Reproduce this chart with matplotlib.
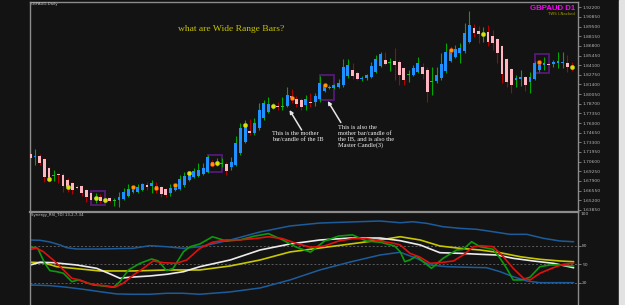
import numpy as np
import matplotlib
matplotlib.use('Agg')
import matplotlib.pyplot as plt
from matplotlib.patches import Rectangle

'''daily GBPAUD candles read off the screenshot (open, high, low, close)'''
opens = [1.7166, 1.7124, 1.7138, 1.7096, 1.6970, 1.6865, 1.6893, 1.6872, 1.6802, 1.6760,
         1.6711, 1.6718, 1.6662, 1.6620, 1.6543, 1.6564, 1.6515, 1.6550, 1.6515, 1.6522,
         1.6536, 1.6578, 1.6634, 1.6634, 1.6662, 1.6732, 1.6718, 1.6718, 1.6704, 1.6676,
         1.6620, 1.6662, 1.6676, 1.6732, 1.6802, 1.6844, 1.6858, 1.6886, 1.6914, 1.7054,
         1.7026, 1.7033, 1.7026, 1.6984, 1.7012, 1.7180, 1.7334, 1.7488, 1.7460, 1.7530,
         1.7670, 1.7754, 1.7831, 1.7845, 1.7831, 1.7838, 1.7978, 1.7936, 1.7922, 1.7852,
         1.7901, 1.7894, 1.7936, 1.8048, 1.8097, 1.8090, 1.8104, 1.8132, 1.8258, 1.8342,
         1.8300, 1.8223, 1.8230, 1.8244, 1.8314, 1.8398, 1.8482, 1.8447, 1.8468, 1.8454,
         1.8370, 1.8279, 1.8272, 1.8314, 1.8384, 1.8342, 1.8181, 1.8188, 1.8230, 1.8328,
         1.8468, 1.8524, 1.8580, 1.8608, 1.8734, 1.8930, 1.8888, 1.8839, 1.8874, 1.8818,
         1.8776, 1.8678, 1.8496, 1.8356, 1.8209, 1.8216, 1.8244, 1.8174, 1.8216, 1.8342,
         1.8412, 1.8433, 1.8426, 1.8440, 1.8440, 1.8440, 1.8398]
highs = [1.7222, 1.7236, 1.7166, 1.7110, 1.6984, 1.6942, 1.6900, 1.6900, 1.6830, 1.6774,
         1.6732, 1.6732, 1.6676, 1.6662, 1.6620, 1.6606, 1.6550, 1.6564, 1.6550, 1.6634,
         1.6690, 1.6746, 1.6718, 1.6746, 1.6760, 1.6774, 1.6802, 1.6774, 1.6718, 1.6690,
         1.6746, 1.6746, 1.6872, 1.6914, 1.6914, 1.6970, 1.7040, 1.7040, 1.7152, 1.7082,
         1.7110, 1.7110, 1.7054, 1.7124, 1.7418, 1.7600, 1.7642, 1.7656, 1.7670, 1.7880,
         1.7922, 1.7964, 1.7880, 1.7894, 1.7964, 1.8104, 1.8076, 1.7978, 1.7950, 1.7992,
         1.8020, 1.8020, 1.8258, 1.8160, 1.8132, 1.8146, 1.8216, 1.8496, 1.8496, 1.8440,
         1.8328, 1.8258, 1.8286, 1.8454, 1.8552, 1.8594, 1.8594, 1.8510, 1.8650, 1.8482,
         1.8384, 1.8342, 1.8412, 1.8524, 1.8440, 1.8384, 1.8384, 1.8384, 1.8580, 1.8720,
         1.8664, 1.8692, 1.8720, 1.9000, 1.9168, 1.8986, 1.8958, 1.8944, 1.8972, 1.8902,
         1.8790, 1.8692, 1.8510, 1.8370, 1.8272, 1.8342, 1.8258, 1.8314, 1.8468, 1.8468,
         1.8524, 1.8482, 1.8482, 1.8594, 1.8594, 1.8552, 1.8454]
lows = [1.7040, 1.7012, 1.7012, 1.6774, 1.6774, 1.6788, 1.6760, 1.6634, 1.6634, 1.6606,
        1.6676, 1.6578, 1.6494, 1.6452, 1.6480, 1.6480, 1.6494, 1.6494, 1.6438, 1.6424,
        1.6522, 1.6564, 1.6620, 1.6620, 1.6648, 1.6662, 1.6620, 1.6620, 1.6564, 1.6564,
        1.6578, 1.6648, 1.6662, 1.6704, 1.6788, 1.6830, 1.6844, 1.6872, 1.6900, 1.6998,
        1.6998, 1.6984, 1.6872, 1.6942, 1.6998, 1.7152, 1.7320, 1.7432, 1.7432, 1.7502,
        1.7642, 1.7740, 1.7796, 1.7782, 1.7782, 1.7824, 1.7880, 1.7824, 1.7782, 1.7782,
        1.7824, 1.7838, 1.7894, 1.8034, 1.8076, 1.8076, 1.8090, 1.8104, 1.8230, 1.8216,
        1.8202, 1.8188, 1.8202, 1.8230, 1.8300, 1.8384, 1.8412, 1.8328, 1.8202, 1.8132,
        1.8132, 1.8174, 1.8258, 1.8300, 1.8216, 1.7894, 1.7992, 1.8160, 1.8202, 1.8300,
        1.8454, 1.8510, 1.8440, 1.8580, 1.8720, 1.8804, 1.8720, 1.8734, 1.8678, 1.8622,
        1.8440, 1.8160, 1.8104, 1.8020, 1.8104, 1.8118, 1.8048, 1.8020, 1.8202, 1.8314,
        1.8342, 1.8328, 1.8384, 1.8370, 1.8370, 1.8314, 1.8328]
closes = [1.7110, 1.7138, 1.7040, 1.6844, 1.6816, 1.6879, 1.6872, 1.6718, 1.6704, 1.6662,
          1.6697, 1.6620, 1.6564, 1.6522, 1.6550, 1.6508, 1.6522, 1.6508, 1.6522, 1.6564,
          1.6634, 1.6676, 1.6704, 1.6704, 1.6746, 1.6704, 1.6760, 1.6690, 1.6606, 1.6592,
          1.6690, 1.6732, 1.6816, 1.6858, 1.6900, 1.6928, 1.6942, 1.6970, 1.7124, 1.7026,
          1.7040, 1.7040, 1.6928, 1.7054, 1.7320, 1.7530, 1.7572, 1.7460, 1.7600, 1.7782,
          1.7880, 1.7866, 1.7838, 1.7831, 1.7838, 1.7992, 1.7950, 1.7866, 1.7824, 1.7936,
          1.7887, 1.7978, 1.8160, 1.8132, 1.8104, 1.8132, 1.8160, 1.8384, 1.8412, 1.8258,
          1.8216, 1.8237, 1.8272, 1.8398, 1.8496, 1.8566, 1.8426, 1.8454, 1.8412, 1.8272,
          1.8202, 1.8286, 1.8370, 1.8440, 1.8286, 1.8034, 1.8188, 1.8272, 1.8426, 1.8594,
          1.8622, 1.8636, 1.8650, 1.8860, 1.8972, 1.8860, 1.8846, 1.8846, 1.8734, 1.8720,
          1.8580, 1.8286, 1.8174, 1.8132, 1.8230, 1.8244, 1.8132, 1.8244, 1.8440, 1.8454,
          1.8440, 1.8419, 1.8454, 1.8468, 1.8454, 1.8384, 1.8391]

'''the little dots sitting on some candles'''
yellow_dots = [4, 8, 14, 16, 34, 40, 46, 52, 97, 116]
orange_dots = [22, 27, 31, 39, 56, 63, 90, 109]

'''inside bar boxes: first bar, last bar, top, bottom'''
box_first = [13, 38, 62, 108]
box_last = [16, 41, 65, 111]
box_top = [1.6652, 1.7152, 1.8272, 1.8562]
box_bottom = [1.6448, 1.6918, 1.7922, 1.8296]

price_ticks = [1.6385, 1.6520, 1.6655, 1.6790, 1.6925, 1.7060, 1.7195, 1.7330, 1.7465, 1.7600, 1.7735,
               1.7870, 1.8005, 1.8140, 1.8275, 1.8410, 1.8545, 1.8680, 1.8815, 1.8950, 1.9085, 1.9220]
tdi_levels = [20, 50, 80]

'''TDI lines in the lower window, (bar, value) read at points along each line'''
band_up_x = [0, 2.1, 4.2, 6.4, 7.8, 9.9, 14.9, 22, 25.6, 29.2, 32.7, 36.3, 42.8, 49.2, 55.6, 62, 68.5,
             74.9, 79.2, 81.9, 84.9, 88.4, 92, 95.6, 99.1, 102.7, 106.3, 109.9, 113.4, 116.3]
band_up = [89.7, 89.2, 86.5, 81.6, 77.2, 75.1, 75.1, 76.2, 80.5, 78.8, 76.2, 78.8, 89.7, 102.7, 112.4,
           117.2, 118.9, 120.5, 117.7, 119.3, 116.7, 111.2, 108.6, 107, 103.1, 98.9, 98.9, 92.4, 88.1, 86.9]
band_dn_x = [0, 4.2, 7.8, 11.3, 14.9, 18.5, 22, 25.6, 29.2, 32.7, 36.3, 42.8, 49.2, 55.6, 62, 68.5,
             74.9, 79.2, 82.7, 85.6, 89.2, 93.4, 97.7, 100.6, 103.4, 106.3, 109.1, 112.7, 116.3]
band_dn = [16.8, 15.7, 13.1, 9.8, 5.9, 2.2, 1.7, 1.7, 3.3, 3.3, 1.7, 5.5, 11.9, 24.9, 41.1, 54, 65.4,
           69.8, 60, 49.2, 46.4, 45.5, 44.8, 38.3, 30.2, 23.3, 20.5, 20.5, 20.5]
green_x = [0, 0.6, 1.6, 3.1, 4.2, 5.7, 7.1, 8.9, 10.3, 12.1, 13.5, 15.6, 17.8, 19.2, 21, 23.5, 26, 27.4,
           29.2, 30.6, 32.8, 34.2, 36.3, 39, 42, 45, 48, 51, 54, 57, 60, 63, 66, 69, 72, 75, 78, 79.2,
           80.2, 81.3, 82.7, 84.1, 85.9, 88.4, 91.3, 92.7, 94.5, 96.3, 99.1, 100.6, 102, 103.4, 105.2,
           107, 109.1, 111.3, 113.4, 116.3]
green = [78.8, 77.9, 76.2, 51.9, 40, 38.3, 35.7, 22.1, 24.9, 20.5, 16.8, 15.2, 13.1, 22.1, 41.1, 51.9,
         58.9, 55.7, 40, 43.8, 70.7, 78.8, 83.2, 95, 88, 90, 96, 100, 90, 78, 70, 88, 96, 98, 88, 86, 80,
         70.7, 54.5, 57.3, 63.8, 54.5, 43.8, 60, 73.5, 74.6, 86.9, 78.8, 74.6, 60, 43.8, 24.9, 24.9,
         29.3, 46.4, 49.2, 49.2, 47.6]
red_x = [0, 1.4, 2.8, 4.9, 7.1, 8.9, 10.6, 12.4, 14.2, 16.4, 18.1, 19.9, 22.1, 24.2, 26.3, 28.5, 31.3,
         33.5, 36.3, 39, 42, 45, 48, 51, 54, 57, 60, 63, 66, 69, 72, 75, 78, 79.2, 81.3, 83.5, 85.6,
         87.7, 90.6, 92.7, 94.9, 96.3, 99.1, 101.3, 103.4, 105.6, 107, 109.1, 112, 114.1, 116.3]
red = [74.6, 76.2, 70.7, 57.3, 41.1, 27.6, 24.9, 19.5, 16.8, 15.2, 13.1, 19.5, 33, 43.8, 55.7, 52.9,
       51.9, 57.3, 76.2, 86, 90, 90, 92, 95, 92, 84, 78, 80, 88, 92, 92, 88, 84, 81.6, 68.1, 61.7, 51.9,
       52.9, 55.7, 65.4, 78.8, 80.5, 78.8, 62.6, 43.8, 27.6, 24.9, 35.7, 44.8, 50.3, 51.9]
yellow_x = [0, 2.8, 5.7, 9.2, 14.9, 22.1, 29.2, 36.3, 42.8, 49.2, 55.6, 62, 68.5, 74.9, 79.2, 83.5,
            87.7, 92, 96.3, 100.6, 104.9, 109.1, 113.4, 116.3]
yellow = [53.6, 52.9, 46.4, 43.8, 39.5, 39.5, 41.1, 41.1, 47.6, 57.3, 70.3, 76.7, 83.2, 89.7, 95, 89.7,
          80, 76.2, 73.5, 69.1, 62.6, 58.4, 55.7, 54.5]
white_x = [0, 2.1, 4.9, 9.9, 14.2, 17.1, 19.2, 21.3, 25.6, 29.2, 32.8, 36.3, 42.8, 49.2, 55.6, 62, 68.5,
           74.9, 79.2, 83.5, 87.7, 92, 96.3, 99.9, 103.4, 107.7, 112, 116.3]
white = [49.2, 53.6, 52.9, 49.2, 43.8, 34.6, 27.6, 29.3, 31.4, 34.1, 38.3, 46.4, 57.3, 73.5, 83.2, 89.7,
         92.9, 92.9, 88.6, 81.6, 69.1, 68.1, 66.5, 65.4, 60, 55.7, 51.9, 44.8]

bg = '#131313'
frame = '#8c8c8c'
W, H = 625, 305

fig = plt.figure(figsize=(6.25, 3.05), dpi=100, facecolor=bg)
# main window and indicator window, placed in screen pixels
ax = fig.add_axes([29.5 / W, 1 - 211.5 / H, 548.5 / W, 210 / H], facecolor=bg)
ax2 = fig.add_axes([29.5 / W, 0, 548.5 / W, 93.5 / H], facecolor=bg)

o = np.array(opens)
h = np.array(highs)
l = np.array(lows)
c = np.array(closes)
x = np.arange(len(o))
up = c >= o
doji = np.abs(c - o) < 0.0012

wick_col = np.where(up, '#00a800', '#b00000')
body_col = np.where(up, '#1e90ff', '#ffb6c1')
body_col = np.where(doji, np.where(up, '#19c819', '#d01010'), body_col)

ax.vlines(x, l, h, colors=wick_col, lw=0.8, zorder=2)
ax.bar(x, np.maximum(np.abs(c - o), 0.0013), bottom=np.minimum(o, c), width=0.62,
       color=body_col, lw=0, zorder=3)

ax.scatter(yellow_dots, c[yellow_dots], s=9, color='#e0e000', edgecolors='#9acd32', linewidths=0.4, zorder=4)
ax.scatter(orange_dots, c[orange_dots], s=9, color='#ff9a00', edgecolors='#e03000', linewidths=0.4, zorder=4)

for i in range(len(box_first)):
    ax.add_patch(Rectangle((box_first[i], box_bottom[i]), box_last[i] - box_first[i],
                           box_top[i] - box_bottom[i], fill=False, ec='#55197a', lw=1.3, zorder=1))

ax.set_xlim(-0.17, 117.28)
ax.set_ylim(1.6361, 1.9301)
ax.set_xticks([])
ax.yaxis.tick_right()
ax.set_yticks(price_ticks)
ax.set_yticklabels(['%.5f' % p for p in price_ticks])
ax.tick_params(axis='y', colors=frame, labelcolor='#b4b4b4', labelsize=3.2, length=2, width=0.6, pad=1)

serif = ['Liberation Serif', 'DejaVu Serif']
ax.text(42.9, 1.8916, 'what are Wide Range Bars?', color='#c8c400', fontsize=6.8,
        family=serif, ha='center', va='center')

ax.annotate('', xy=(55.5, 1.7782), xytext=(58.1, 1.7502),
            arrowprops=dict(arrowstyle='-|>', color='#e6e6e6', lw=1.1, mutation_scale=5, shrinkA=0, shrinkB=0))
ax.annotate('', xy=(63.7, 1.7908), xytext=(66.5, 1.7607),
            arrowprops=dict(arrowstyle='-|>', color='#e6e6e6', lw=1.1, mutation_scale=5, shrinkA=0, shrinkB=0))
ax.text(51.7, 1.7488, 'This is the mother\nbar/candle of the IB', color='#f2f2f2', fontsize=4.6,
        family=serif, ha='left', va='top', linespacing=1.25)
ax.text(65.9, 1.7579, 'This is also the\nmother bar/candle of\nthe IB, and is also the\nMaster Candle(3)',
        color='#f2f2f2', fontsize=4.6, family=serif, ha='left', va='top', linespacing=1.25)

# lower window
ax2.plot(band_up_x, band_up, color='#1d5c9c', lw=1.1)
ax2.plot(band_dn_x, band_dn, color='#1d5c9c', lw=1.1)
ax2.plot(yellow_x, yellow, color='#c8c800', lw=1.2)
ax2.plot(white_x, white, color='#ececec', lw=1.2)
ax2.plot(green_x, green, color='#0c9a0c', lw=1.2)
ax2.plot(red_x, red, color='#e01010', lw=1.2)
for lv in tdi_levels:
    ax2.axhline(lv, color='#5c5c5c', lw=0.7, ls=(0, (2, 2)), zorder=0)
ax2.set_xlim(-0.17, 117.28)
ax2.set_ylim(-15.7, 135.9)
ax2.set_xticks([])
ax2.yaxis.tick_right()
ax2.set_yticks(tdi_levels)
ax2.set_yticklabels([str(v) for v in tdi_levels])
ax2.tick_params(axis='y', colors=frame, labelcolor='#b4b4b4', labelsize=3.2, length=2, width=0.6, pad=1)

for a in (ax, ax2):
    a.spines['bottom'].set_visible(False)
    for s in ('left', 'right', 'top'):
        a.spines[s].set_color(frame)
        a.spines[s].set_linewidth(1.0)
ax2.spines['top'].set_linewidth(1.6)

'''window captions'''
fig.text(31 / W, 1 - 3.5 / H, 'GBPAUD,Daily', color='#c8c8c8', fontsize=2.8, va='center')
fig.text(31 / W, 1 - 215 / H, 'Synergy_RSI_TDI 13,2,7,34', color='#c8c8c8', fontsize=2.8, va='center')
fig.text(575 / W, 1 - 8.5 / H, 'GBPAUD D1', color='#ff00ff', fontsize=5.6, fontweight='bold',
         family=['Liberation Sans', 'DejaVu Sans'], ha='right', va='center')
fig.text(575 / W, 1 - 14.3 / H, 'TWS I-Nacked', color='#a8a000', fontsize=2.8, ha='right', va='center')
fig.text(581 / W, 1 - 214 / H, '100', color='#b4b4b4', fontsize=3.2, va='center')

# scroll bar on the right edge
fig.patches.append(Rectangle((619 / W, 0), 6 / W, 1, transform=fig.transFigure, color='#e2e2e2', zorder=0))

fig.savefig('out.png', dpi=100, facecolor=bg)
